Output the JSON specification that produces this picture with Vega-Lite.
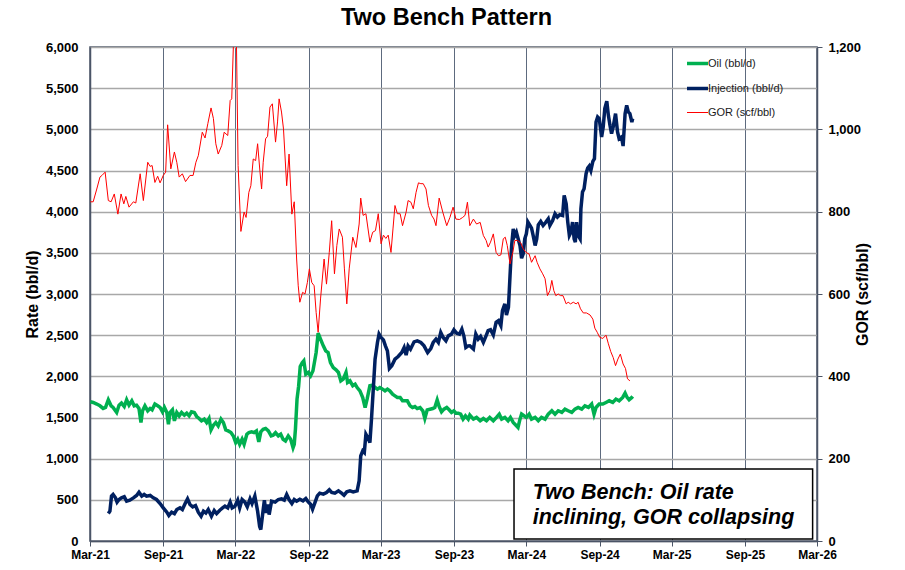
{
"$schema": "https://vega.github.io/schema/vega-lite/v6.json",
"width": 727, "height": 494,
"autosize": {"type": "none"},
"padding": {"left": 90, "top": 47, "right": 88, "bottom": 29},
"background": "white",
"title": {"text": "Two Bench Pattern", "fontSize": 23.5, "fontWeight": "bold", "font": "Liberation Sans", "color": "#000", "anchor": "middle", "offset": 12, "dx": -7},
"config": {
  "font": "Liberation Sans",
  "view": {"stroke": "#4b5567", "strokeWidth": 1.5},
  "axis": {"labelFontWeight": "bold", "labelColor": "#000", "titleColor": "#000", "titleFontWeight": "bold", "domainColor": "#4b5567", "domainWidth": 1.5, "tickColor": "#4b5567", "labelFont": "Liberation Sans", "titleFont": "Liberation Sans"}
},
"datasets": {
"oil": [
{"d":"2021-03-02","v":1691},{"d":"2021-03-09","v":1683},{"d":"2021-03-18","v":1663},{"d":"2021-03-26","v":1642},{"d":"2021-04-03","v":1610},{"d":"2021-04-09","v":1622},{"d":"2021-04-16","v":1715},{"d":"2021-04-23","v":1642},{"d":"2021-04-28","v":1622},{"d":"2021-05-07","v":1561},{"d":"2021-05-13","v":1650},{"d":"2021-05-19","v":1675},{"d":"2021-05-26","v":1634},{"d":"2021-06-01","v":1715},{"d":"2021-06-07","v":1650},{"d":"2021-06-14","v":1703},{"d":"2021-06-20","v":1642},{"d":"2021-06-26","v":1650},{"d":"2021-07-02","v":1610},{"d":"2021-07-07","v":1439},{"d":"2021-07-11","v":1581},{"d":"2021-07-17","v":1642},{"d":"2021-07-24","v":1581},{"d":"2021-07-30","v":1610},{"d":"2021-08-04","v":1593},{"d":"2021-08-11","v":1663},{"d":"2021-08-18","v":1642},{"d":"2021-08-24","v":1622},{"d":"2021-08-30","v":1569},{"d":"2021-09-04","v":1622},{"d":"2021-09-10","v":1561},{"d":"2021-09-14","v":1419},{"d":"2021-09-18","v":1561},{"d":"2021-09-24","v":1593},{"d":"2021-09-29","v":1459},{"d":"2021-10-05","v":1561},{"d":"2021-10-11","v":1520},{"d":"2021-10-17","v":1561},{"d":"2021-10-24","v":1528},{"d":"2021-10-30","v":1553},{"d":"2021-11-05","v":1520},{"d":"2021-11-11","v":1569},{"d":"2021-11-18","v":1561},{"d":"2021-11-24","v":1512},{"d":"2021-11-30","v":1488},{"d":"2021-12-06","v":1459},{"d":"2021-12-13","v":1480},{"d":"2021-12-19","v":1439},{"d":"2021-12-25","v":1488},{"d":"2021-12-30","v":1350},{"d":"2022-01-05","v":1407},{"d":"2022-01-11","v":1439},{"d":"2022-01-17","v":1398},{"d":"2022-01-24","v":1480},{"d":"2022-01-30","v":1439},{"d":"2022-02-05","v":1350},{"d":"2022-02-11","v":1337},{"d":"2022-02-18","v":1317},{"d":"2022-02-24","v":1276},{"d":"2022-03-02","v":1195},{"d":"2022-03-07","v":1236},{"d":"2022-03-12","v":1175},{"d":"2022-03-18","v":1236},{"d":"2022-03-23","v":1175},{"d":"2022-03-30","v":1297},{"d":"2022-04-04","v":1317},{"d":"2022-04-11","v":1325},{"d":"2022-04-17","v":1317},{"d":"2022-04-23","v":1337},{"d":"2022-04-29","v":1203},{"d":"2022-05-04","v":1325},{"d":"2022-05-10","v":1358},{"d":"2022-05-16","v":1366},{"d":"2022-05-23","v":1337},{"d":"2022-05-30","v":1276},{"d":"2022-06-04","v":1285},{"d":"2022-06-10","v":1317},{"d":"2022-06-17","v":1276},{"d":"2022-06-23","v":1297},{"d":"2022-06-29","v":1236},{"d":"2022-07-05","v":1215},{"d":"2022-07-12","v":1276},{"d":"2022-07-18","v":1236},{"d":"2022-07-24","v":1134},{"d":"2022-07-27","v":1175},{"d":"2022-07-30","v":1358},{"d":"2022-08-03","v":1724},{"d":"2022-08-07","v":1880},{"d":"2022-08-11","v":2120},{"d":"2022-08-16","v":2165},{"d":"2022-08-20","v":2188},{"d":"2022-08-25","v":2026},{"d":"2022-08-31","v":2047},{"d":"2022-09-06","v":2006},{"d":"2022-09-12","v":2067},{"d":"2022-09-20","v":2289},{"d":"2022-09-25","v":2524},{"d":"2022-10-01","v":2451},{"d":"2022-10-08","v":2370},{"d":"2022-10-14","v":2310},{"d":"2022-10-20","v":2289},{"d":"2022-10-26","v":2168},{"d":"2022-11-02","v":2107},{"d":"2022-11-09","v":2079},{"d":"2022-11-15","v":2047},{"d":"2022-11-21","v":1945},{"d":"2022-11-27","v":1966},{"d":"2022-12-04","v":2047},{"d":"2022-12-08","v":1925},{"d":"2022-12-14","v":1945},{"d":"2022-12-21","v":1885},{"d":"2022-12-27","v":1905},{"d":"2023-01-01","v":1864},{"d":"2023-01-08","v":1824},{"d":"2023-01-15","v":1743},{"d":"2023-01-21","v":1621},{"d":"2023-01-26","v":1723},{"d":"2023-02-02","v":1885},{"d":"2023-02-09","v":1893},{"d":"2023-02-15","v":1864},{"d":"2023-02-21","v":1844},{"d":"2023-02-27","v":1864},{"d":"2023-03-06","v":1844},{"d":"2023-03-12","v":1824},{"d":"2023-03-18","v":1844},{"d":"2023-03-24","v":1824},{"d":"2023-03-31","v":1783},{"d":"2023-04-06","v":1763},{"d":"2023-04-12","v":1743},{"d":"2023-04-19","v":1743},{"d":"2023-04-25","v":1702},{"d":"2023-05-01","v":1702},{"d":"2023-05-07","v":1702},{"d":"2023-05-14","v":1642},{"d":"2023-05-20","v":1621},{"d":"2023-05-26","v":1633},{"d":"2023-06-01","v":1609},{"d":"2023-06-08","v":1621},{"d":"2023-06-15","v":1581},{"d":"2023-06-20","v":1488},{"d":"2023-06-26","v":1593},{"d":"2023-07-03","v":1601},{"d":"2023-07-10","v":1609},{"d":"2023-07-15","v":1621},{"d":"2023-07-21","v":1714},{"d":"2023-07-26","v":1633},{"d":"2023-08-01","v":1569},{"d":"2023-08-07","v":1601},{"d":"2023-08-14","v":1621},{"d":"2023-08-20","v":1593},{"d":"2023-08-26","v":1561},{"d":"2023-09-01","v":1581},{"d":"2023-09-06","v":1553},{"d":"2023-09-12","v":1553},{"d":"2023-09-18","v":1540},{"d":"2023-09-24","v":1480},{"d":"2023-09-30","v":1520},{"d":"2023-10-07","v":1480},{"d":"2023-10-11","v":1530},{"d":"2023-10-20","v":1480},{"d":"2023-10-28","v":1501},{"d":"2023-11-06","v":1460},{"d":"2023-11-14","v":1488},{"d":"2023-11-22","v":1460},{"d":"2023-11-30","v":1501},{"d":"2023-12-09","v":1460},{"d":"2023-12-17","v":1501},{"d":"2023-12-24","v":1541},{"d":"2023-12-30","v":1480},{"d":"2024-01-07","v":1501},{"d":"2024-01-15","v":1460},{"d":"2024-01-21","v":1501},{"d":"2024-01-28","v":1440},{"d":"2024-02-05","v":1399},{"d":"2024-02-09","v":1379},{"d":"2024-02-14","v":1480},{"d":"2024-02-18","v":1541},{"d":"2024-02-24","v":1521},{"d":"2024-03-01","v":1501},{"d":"2024-03-08","v":1541},{"d":"2024-03-14","v":1480},{"d":"2024-03-23","v":1501},{"d":"2024-03-31","v":1460},{"d":"2024-04-08","v":1501},{"d":"2024-04-17","v":1480},{"d":"2024-04-25","v":1541},{"d":"2024-05-04","v":1582},{"d":"2024-05-12","v":1541},{"d":"2024-05-20","v":1582},{"d":"2024-05-29","v":1562},{"d":"2024-06-06","v":1602},{"d":"2024-06-14","v":1582},{"d":"2024-06-23","v":1562},{"d":"2024-07-01","v":1602},{"d":"2024-07-09","v":1622},{"d":"2024-07-18","v":1602},{"d":"2024-07-26","v":1642},{"d":"2024-08-04","v":1622},{"d":"2024-08-12","v":1663},{"d":"2024-08-18","v":1541},{"d":"2024-08-23","v":1622},{"d":"2024-08-31","v":1663},{"d":"2024-09-09","v":1663},{"d":"2024-09-17","v":1683},{"d":"2024-09-25","v":1703},{"d":"2024-10-04","v":1683},{"d":"2024-10-12","v":1724},{"d":"2024-10-20","v":1703},{"d":"2024-10-29","v":1744},{"d":"2024-11-04","v":1797},{"d":"2024-11-09","v":1744},{"d":"2024-11-14","v":1716},{"d":"2024-11-21","v":1744},{"d":"2024-11-23","v":1756}
],
"inj": [
{"d":"2021-04-16","v":333},{"d":"2021-04-20","v":362},{"d":"2021-04-24","v":545},{"d":"2021-04-28","v":565},{"d":"2021-05-04","v":524},{"d":"2021-05-08","v":472},{"d":"2021-05-13","v":504},{"d":"2021-05-19","v":524},{"d":"2021-05-26","v":537},{"d":"2021-06-01","v":484},{"d":"2021-06-09","v":496},{"d":"2021-06-18","v":524},{"d":"2021-06-26","v":553},{"d":"2021-07-02","v":593},{"d":"2021-07-09","v":545},{"d":"2021-07-15","v":565},{"d":"2021-07-21","v":545},{"d":"2021-07-30","v":553},{"d":"2021-08-07","v":524},{"d":"2021-08-15","v":504},{"d":"2021-08-24","v":455},{"d":"2021-09-01","v":402},{"d":"2021-09-10","v":350},{"d":"2021-09-15","v":309},{"d":"2021-09-22","v":350},{"d":"2021-09-29","v":333},{"d":"2021-10-05","v":382},{"d":"2021-10-13","v":402},{"d":"2021-10-19","v":382},{"d":"2021-10-26","v":455},{"d":"2021-11-01","v":512},{"d":"2021-11-07","v":443},{"d":"2021-11-14","v":415},{"d":"2021-11-21","v":431},{"d":"2021-11-28","v":350},{"d":"2021-12-05","v":301},{"d":"2021-12-11","v":362},{"d":"2021-12-17","v":341},{"d":"2021-12-23","v":382},{"d":"2021-12-31","v":301},{"d":"2022-01-07","v":370},{"d":"2022-01-13","v":333},{"d":"2022-01-21","v":374},{"d":"2022-01-28","v":402},{"d":"2022-02-03","v":423},{"d":"2022-02-10","v":402},{"d":"2022-02-16","v":472},{"d":"2022-02-21","v":402},{"d":"2022-02-28","v":423},{"d":"2022-03-07","v":496},{"d":"2022-03-12","v":402},{"d":"2022-03-18","v":504},{"d":"2022-03-25","v":472},{"d":"2022-03-31","v":415},{"d":"2022-04-07","v":512},{"d":"2022-04-12","v":455},{"d":"2022-04-19","v":545},{"d":"2022-04-26","v":362},{"d":"2022-05-01","v":179},{"d":"2022-05-04","v":138},{"d":"2022-05-09","v":341},{"d":"2022-05-13","v":496},{"d":"2022-05-17","v":341},{"d":"2022-05-21","v":443},{"d":"2022-05-25","v":321},{"d":"2022-05-31","v":484},{"d":"2022-06-09","v":472},{"d":"2022-06-17","v":504},{"d":"2022-06-25","v":512},{"d":"2022-07-02","v":496},{"d":"2022-07-08","v":565},{"d":"2022-07-14","v":504},{"d":"2022-07-21","v":455},{"d":"2022-07-27","v":504},{"d":"2022-08-02","v":484},{"d":"2022-08-10","v":508},{"d":"2022-08-18","v":488},{"d":"2022-08-25","v":516},{"d":"2022-08-31","v":476},{"d":"2022-09-06","v":447},{"d":"2022-09-11","v":386},{"d":"2022-09-17","v":467},{"d":"2022-09-23","v":548},{"d":"2022-09-29","v":581},{"d":"2022-10-08","v":569},{"d":"2022-10-16","v":589},{"d":"2022-10-23","v":621},{"d":"2022-10-29","v":589},{"d":"2022-11-06","v":581},{"d":"2022-11-15","v":609},{"d":"2022-11-23","v":581},{"d":"2022-11-29","v":556},{"d":"2022-12-06","v":597},{"d":"2022-12-14","v":609},{"d":"2022-12-22","v":597},{"d":"2023-01-01","v":609},{"d":"2023-01-06","v":731},{"d":"2023-01-10","v":1034},{"d":"2023-01-15","v":1095},{"d":"2023-01-19","v":1075},{"d":"2023-01-23","v":1297},{"d":"2023-01-29","v":1245},{"d":"2023-02-02","v":1196},{"d":"2023-02-06","v":1480},{"d":"2023-02-11","v":1885},{"d":"2023-02-15","v":2208},{"d":"2023-02-21","v":2411},{"d":"2023-02-25","v":2512},{"d":"2023-03-02","v":2472},{"d":"2023-03-08","v":2443},{"d":"2023-03-13","v":2370},{"d":"2023-03-18","v":2310},{"d":"2023-03-23","v":2095},{"d":"2023-03-29","v":2127},{"d":"2023-04-06","v":2208},{"d":"2023-04-14","v":2241},{"d":"2023-04-23","v":2289},{"d":"2023-04-29","v":2350},{"d":"2023-05-04","v":2257},{"d":"2023-05-09","v":2370},{"d":"2023-05-15","v":2330},{"d":"2023-05-24","v":2419},{"d":"2023-06-01","v":2431},{"d":"2023-06-10","v":2411},{"d":"2023-06-18","v":2370},{"d":"2023-06-27","v":2289},{"d":"2023-07-05","v":2338},{"d":"2023-07-11","v":2411},{"d":"2023-07-18","v":2451},{"d":"2023-07-24","v":2411},{"d":"2023-07-30","v":2532},{"d":"2023-08-05","v":2472},{"d":"2023-08-12","v":2431},{"d":"2023-08-18","v":2492},{"d":"2023-08-26","v":2512},{"d":"2023-09-01","v":2565},{"d":"2023-09-08","v":2524},{"d":"2023-09-15","v":2512},{"d":"2023-09-21","v":2573},{"d":"2023-09-26","v":2492},{"d":"2023-10-01","v":2350},{"d":"2023-10-07","v":2370},{"d":"2023-10-11","v":2372},{"d":"2023-10-20","v":2332},{"d":"2023-10-26","v":2514},{"d":"2023-11-01","v":2453},{"d":"2023-11-07","v":2486},{"d":"2023-11-14","v":2413},{"d":"2023-11-21","v":2494},{"d":"2023-11-26","v":2555},{"d":"2023-12-02","v":2567},{"d":"2023-12-09","v":2502},{"d":"2023-12-16","v":2656},{"d":"2023-12-22","v":2676},{"d":"2023-12-28","v":2616},{"d":"2024-01-01","v":2798},{"d":"2024-01-07","v":2879},{"d":"2024-01-11","v":2745},{"d":"2024-01-16","v":2839},{"d":"2024-01-20","v":3224},{"d":"2024-01-24","v":3589},{"d":"2024-01-28","v":3792},{"d":"2024-02-01","v":3711},{"d":"2024-02-05","v":3751},{"d":"2024-02-09","v":3678},{"d":"2024-02-14","v":3589},{"d":"2024-02-18","v":3435},{"d":"2024-02-22","v":3487},{"d":"2024-02-26","v":3670},{"d":"2024-03-01","v":3731},{"d":"2024-03-05","v":3873},{"d":"2024-03-10","v":3832},{"d":"2024-03-14","v":3800},{"d":"2024-03-18","v":3711},{"d":"2024-03-23","v":3589},{"d":"2024-03-27","v":3670},{"d":"2024-03-31","v":3840},{"d":"2024-04-06","v":3881},{"d":"2024-04-12","v":3832},{"d":"2024-04-19","v":3873},{"d":"2024-04-25","v":3913},{"d":"2024-04-29","v":3832},{"d":"2024-05-06","v":3893},{"d":"2024-05-12","v":3974},{"d":"2024-05-18","v":3934},{"d":"2024-05-24","v":3962},{"d":"2024-05-31","v":3954},{"d":"2024-06-04","v":4197},{"d":"2024-06-09","v":4096},{"d":"2024-06-13","v":3873},{"d":"2024-06-17","v":3711},{"d":"2024-06-21","v":3751},{"d":"2024-06-25","v":3873},{"d":"2024-06-29","v":3670},{"d":"2024-07-02","v":3629},{"d":"2024-07-05","v":3873},{"d":"2024-07-09","v":3711},{"d":"2024-07-14","v":3670},{"d":"2024-07-16","v":4035},{"d":"2024-07-20","v":4238},{"d":"2024-07-24","v":4278},{"d":"2024-07-29","v":4461},{"d":"2024-08-02","v":4530},{"d":"2024-08-06","v":4554},{"d":"2024-08-10","v":4501},{"d":"2024-08-15","v":4611},{"d":"2024-08-19","v":4643},{"d":"2024-08-23","v":5089},{"d":"2024-08-27","v":5150},{"d":"2024-08-31","v":5130},{"d":"2024-09-06","v":4907},{"d":"2024-09-10","v":5028},{"d":"2024-09-14","v":5251},{"d":"2024-09-19","v":5341},{"d":"2024-09-23","v":5170},{"d":"2024-09-27","v":5049},{"d":"2024-10-01","v":4947},{"d":"2024-10-05","v":5028},{"d":"2024-10-11","v":5191},{"d":"2024-10-16","v":4968},{"d":"2024-10-20","v":4886},{"d":"2024-10-26","v":4907},{"d":"2024-10-30","v":4797},{"d":"2024-11-04","v":5191},{"d":"2024-11-08","v":5292},{"d":"2024-11-12","v":5211},{"d":"2024-11-16","v":5191},{"d":"2024-11-21","v":5089},{"d":"2024-11-23","v":5130}
],
"gor": [
{"d":"2021-03-02","v":824},{"d":"2021-03-09","v":824},{"d":"2021-03-18","v":855},{"d":"2021-03-26","v":884},{"d":"2021-03-31","v":888},{"d":"2021-04-08","v":896},{"d":"2021-04-16","v":827},{"d":"2021-04-23","v":824},{"d":"2021-05-01","v":843},{"d":"2021-05-10","v":794},{"d":"2021-05-18","v":843},{"d":"2021-05-25","v":819},{"d":"2021-05-30","v":837},{"d":"2021-06-07","v":811},{"d":"2021-06-18","v":824},{"d":"2021-06-24","v":821},{"d":"2021-07-05","v":892},{"d":"2021-07-13","v":827},{"d":"2021-07-24","v":920},{"d":"2021-07-30","v":910},{"d":"2021-08-04","v":912},{"d":"2021-08-11","v":871},{"d":"2021-08-18","v":886},{"d":"2021-08-24","v":870},{"d":"2021-09-01","v":888},{"d":"2021-09-07","v":896},{"d":"2021-09-12","v":1011},{"d":"2021-09-20","v":904},{"d":"2021-09-29","v":945},{"d":"2021-10-05","v":920},{"d":"2021-10-11","v":884},{"d":"2021-10-19","v":892},{"d":"2021-10-27","v":873},{"d":"2021-11-07","v":888},{"d":"2021-11-15","v":888},{"d":"2021-11-22","v":920},{"d":"2021-11-28","v":936},{"d":"2021-12-08","v":993},{"d":"2021-12-15","v":979},{"d":"2021-12-22","v":1014},{"d":"2021-12-30","v":1052},{"d":"2022-01-05","v":1026},{"d":"2022-01-11","v":965},{"d":"2022-01-17","v":940},{"d":"2022-01-26","v":961},{"d":"2022-02-01","v":993},{"d":"2022-02-10","v":985},{"d":"2022-02-16","v":1070},{"d":"2022-02-20","v":1074},{"d":"2022-02-24","v":1200},{"d":"2022-03-02","v":1300},{"d":"2022-03-04","v":1200},{"d":"2022-03-08","v":912},{"d":"2022-03-15","v":752},{"d":"2022-03-23","v":799},{"d":"2022-03-28","v":786},{"d":"2022-04-04","v":847},{"d":"2022-04-09","v":863},{"d":"2022-04-15","v":928},{"d":"2022-04-21","v":924},{"d":"2022-04-26","v":965},{"d":"2022-05-02","v":896},{"d":"2022-05-06","v":855},{"d":"2022-05-10","v":920},{"d":"2022-05-16","v":977},{"d":"2022-05-21","v":983},{"d":"2022-05-27","v":1054},{"d":"2022-06-02","v":1062},{"d":"2022-06-10","v":969},{"d":"2022-06-15","v":1018},{"d":"2022-06-19","v":1074},{"d":"2022-06-25","v":1042},{"d":"2022-06-30","v":1001},{"d":"2022-07-08","v":863},{"d":"2022-07-14","v":940},{"d":"2022-07-21","v":794},{"d":"2022-07-27","v":824},{"d":"2022-08-02","v":685},{"d":"2022-08-06","v":620},{"d":"2022-08-10","v":580},{"d":"2022-08-17","v":604},{"d":"2022-08-23","v":600},{"d":"2022-08-29","v":628},{"d":"2022-09-03","v":661},{"d":"2022-09-09","v":628},{"d":"2022-09-15","v":620},{"d":"2022-09-20","v":555},{"d":"2022-09-25","v":507},{"d":"2022-10-01","v":588},{"d":"2022-10-10","v":685},{"d":"2022-10-16","v":624},{"d":"2022-10-23","v":701},{"d":"2022-10-29","v":778},{"d":"2022-11-05","v":649},{"d":"2022-11-11","v":718},{"d":"2022-11-17","v":758},{"d":"2022-11-25","v":738},{"d":"2022-11-30","v":661},{"d":"2022-12-06","v":576},{"d":"2022-12-12","v":661},{"d":"2022-12-21","v":738},{"d":"2022-12-29","v":713},{"d":"2023-01-06","v":770},{"d":"2023-01-10","v":833},{"d":"2023-01-16","v":791},{"d":"2023-01-23","v":795},{"d":"2023-02-02","v":726},{"d":"2023-02-09","v":750},{"d":"2023-02-16","v":754},{"d":"2023-02-23","v":795},{"d":"2023-03-02","v":722},{"d":"2023-03-08","v":743},{"d":"2023-03-14","v":735},{"d":"2023-03-20","v":743},{"d":"2023-03-27","v":701},{"d":"2023-04-01","v":758},{"d":"2023-04-06","v":815},{"d":"2023-04-12","v":795},{"d":"2023-04-19","v":795},{"d":"2023-04-25","v":766},{"d":"2023-05-04","v":799},{"d":"2023-05-09","v":827},{"d":"2023-05-16","v":823},{"d":"2023-05-22","v":807},{"d":"2023-05-29","v":847},{"d":"2023-06-04","v":870},{"d":"2023-06-10","v":868},{"d":"2023-06-16","v":868},{"d":"2023-06-23","v":855},{"d":"2023-06-29","v":815},{"d":"2023-07-07","v":791},{"d":"2023-07-13","v":782},{"d":"2023-07-18","v":766},{"d":"2023-07-26","v":833},{"d":"2023-08-04","v":799},{"d":"2023-08-14","v":766},{"d":"2023-08-22","v":786},{"d":"2023-08-30","v":811},{"d":"2023-09-06","v":782},{"d":"2023-09-15","v":781},{"d":"2023-09-23","v":786},{"d":"2023-09-29","v":791},{"d":"2023-10-05","v":823},{"d":"2023-10-11","v":766},{"d":"2023-10-20","v":782},{"d":"2023-10-28","v":770},{"d":"2023-11-06","v":774},{"d":"2023-11-14","v":742},{"d":"2023-11-21","v":730},{"d":"2023-11-26","v":714},{"d":"2023-12-02","v":726},{"d":"2023-12-09","v":746},{"d":"2023-12-16","v":701},{"d":"2023-12-22","v":693},{"d":"2023-12-28","v":695},{"d":"2024-01-03","v":734},{"d":"2024-01-08","v":738},{"d":"2024-01-13","v":718},{"d":"2024-01-20","v":673},{"d":"2024-01-27","v":701},{"d":"2024-02-01","v":730},{"d":"2024-02-08","v":730},{"d":"2024-02-16","v":724},{"d":"2024-02-22","v":710},{"d":"2024-02-29","v":701},{"d":"2024-03-08","v":697},{"d":"2024-03-14","v":677},{"d":"2024-03-23","v":693},{"d":"2024-03-28","v":677},{"d":"2024-04-04","v":661},{"d":"2024-04-11","v":649},{"d":"2024-04-17","v":637},{"d":"2024-04-23","v":596},{"d":"2024-04-29","v":608},{"d":"2024-05-04","v":633},{"d":"2024-05-09","v":608},{"d":"2024-05-14","v":596},{"d":"2024-05-20","v":600},{"d":"2024-05-26","v":596},{"d":"2024-06-01","v":596},{"d":"2024-06-09","v":576},{"d":"2024-06-14","v":580},{"d":"2024-06-20","v":576},{"d":"2024-06-27","v":580},{"d":"2024-07-04","v":576},{"d":"2024-07-09","v":580},{"d":"2024-07-15","v":564},{"d":"2024-07-22","v":554},{"d":"2024-07-30","v":554},{"d":"2024-08-08","v":549},{"d":"2024-08-15","v":539},{"d":"2024-08-20","v":517},{"d":"2024-08-26","v":507},{"d":"2024-09-01","v":495},{"d":"2024-09-09","v":492},{"d":"2024-09-17","v":500},{"d":"2024-09-23","v":479},{"d":"2024-09-29","v":460},{"d":"2024-10-05","v":446},{"d":"2024-10-11","v":426},{"d":"2024-10-17","v":442},{"d":"2024-10-23","v":454},{"d":"2024-10-30","v":430},{"d":"2024-11-05","v":419},{"d":"2024-11-10","v":394},{"d":"2024-11-16","v":389}
]
},
"resolve": {"scale": {"y": "independent"}},
"layer": [
  {
    "layer": [
      {
        "data": {"name": "oil"},
        "mark": {"type": "line", "strokeWidth": 3.5},
        "encoding": {
          "x": {"field": "d", "type": "temporal",
            "scale": {"domain": [{"year": 2021, "month": 3, "date": 1}, {"year": 2026, "month": 3, "date": 1}]},
            "axis": {"title": null, "format": "%b-%y", "labelFontSize": 12, "tickSize": 5, "labelPadding": 3, "labelFlush": false, "labelOverlap": false, "grid": true, "gridColor": "#5d6a7e", "gridWidth": 1,
              "values": [{"year": 2021, "month": 3, "date": 1}, {"year": 2021, "month": 9, "date": 1}, {"year": 2022, "month": 3, "date": 1}, {"year": 2022, "month": 9, "date": 1}, {"year": 2023, "month": 3, "date": 1}, {"year": 2023, "month": 9, "date": 1}, {"year": 2024, "month": 3, "date": 1}, {"year": 2024, "month": 9, "date": 1}, {"year": 2025, "month": 3, "date": 1}, {"year": 2025, "month": 9, "date": 1}, {"year": 2026, "month": 3, "date": 1}]}},
          "y": {"field": "v", "type": "quantitative",
            "scale": {"domain": [0, 6000], "nice": false},
            "axis": {"title": "Rate (bbl/d)", "titleFontSize": 16, "labelFontSize": 13, "format": ",d", "values": [0, 500, 1000, 1500, 2000, 2500, 3000, 3500, 4000, 4500, 5000, 5500, 6000], "ticks": false, "tickSize": 0, "labelPadding": 12, "titlePadding": 5, "grid": true, "gridColor": "#a8a8a8", "gridWidth": 1.5}},
          "color": {"datum": "Oil (bbl/d)", "type": "nominal",
            "scale": {"domain": ["Oil (bbl/d)", "Injection (bbl/d)", "GOR (scf/bbl)"], "range": ["#00b050", "#002060", "#ff0000"]},
            "legend": {"orient": "none", "legendX": 602, "legendY": 11, "title": null, "symbolType": "stroke", "symbolSize": 441, "symbolStrokeWidth": 3.5, "labelFontSize": 11, "labelFontWeight": "normal", "labelColor": "#1a1a1a", "labelFont": "Liberation Sans", "labelOffset": 5, "rowPadding": 10,
              "encode": {"symbols": {"update": {"strokeWidth": {"signal": "datum.value === 'GOR (scf/bbl)' ? 1 : 3.5"}}}}}}
        }
      },
      {
        "data": {"name": "inj"},
        "mark": {"type": "line", "strokeWidth": 3.5},
        "encoding": {
          "x": {"field": "d", "type": "temporal"},
          "y": {"field": "v", "type": "quantitative"},
          "color": {"datum": "Injection (bbl/d)", "type": "nominal"}
        }
      },
      {
        "data": {"values": [{}]},
        "mark": {"type": "rect", "fill": "white", "stroke": "#000", "strokeWidth": 1.5},
        "encoding": {
          "x": {"datum": {"year": 2024, "month": 1, "date": 30}, "type": "temporal"},
          "x2": {"datum": {"year": 2026, "month": 2, "date": 18}},
          "y": {"datum": 875, "type": "quantitative"},
          "y2": {"datum": 24}
        }
      },
      {
        "data": {"values": [{}]},
        "mark": {"type": "text", "text": ["Two Bench: Oil rate", "inclining, GOR collapsing"], "font": "Liberation Sans", "fontSize": 21.5, "fontWeight": "bold", "fontStyle": "italic", "color": "#000", "align": "left", "baseline": "alphabetic", "lineHeight": 25},
        "encoding": {
          "x": {"datum": {"year": 2024, "month": 3, "date": 17}, "type": "temporal"},
          "y": {"datum": 510, "type": "quantitative"}
        }
      }
    ]
  },
  {
    "data": {"name": "gor"},
    "mark": {"type": "line", "strokeWidth": 1, "clip": true},
    "encoding": {
      "x": {"field": "d", "type": "temporal"},
      "y": {"field": "v", "type": "quantitative",
        "scale": {"domain": [0, 1200], "nice": false},
        "axis": {"orient": "right", "title": "GOR (scf/bbl)", "titleFontSize": 16, "titleAngle": 270, "labelFontSize": 13, "format": ",d", "values": [0, 200, 400, 600, 800, 1000, 1200], "tickSize": 5, "labelPadding": 6, "titlePadding": 10, "grid": false}},
      "color": {"datum": "GOR (scf/bbl)", "type": "nominal"}
    }
  }
]
}
